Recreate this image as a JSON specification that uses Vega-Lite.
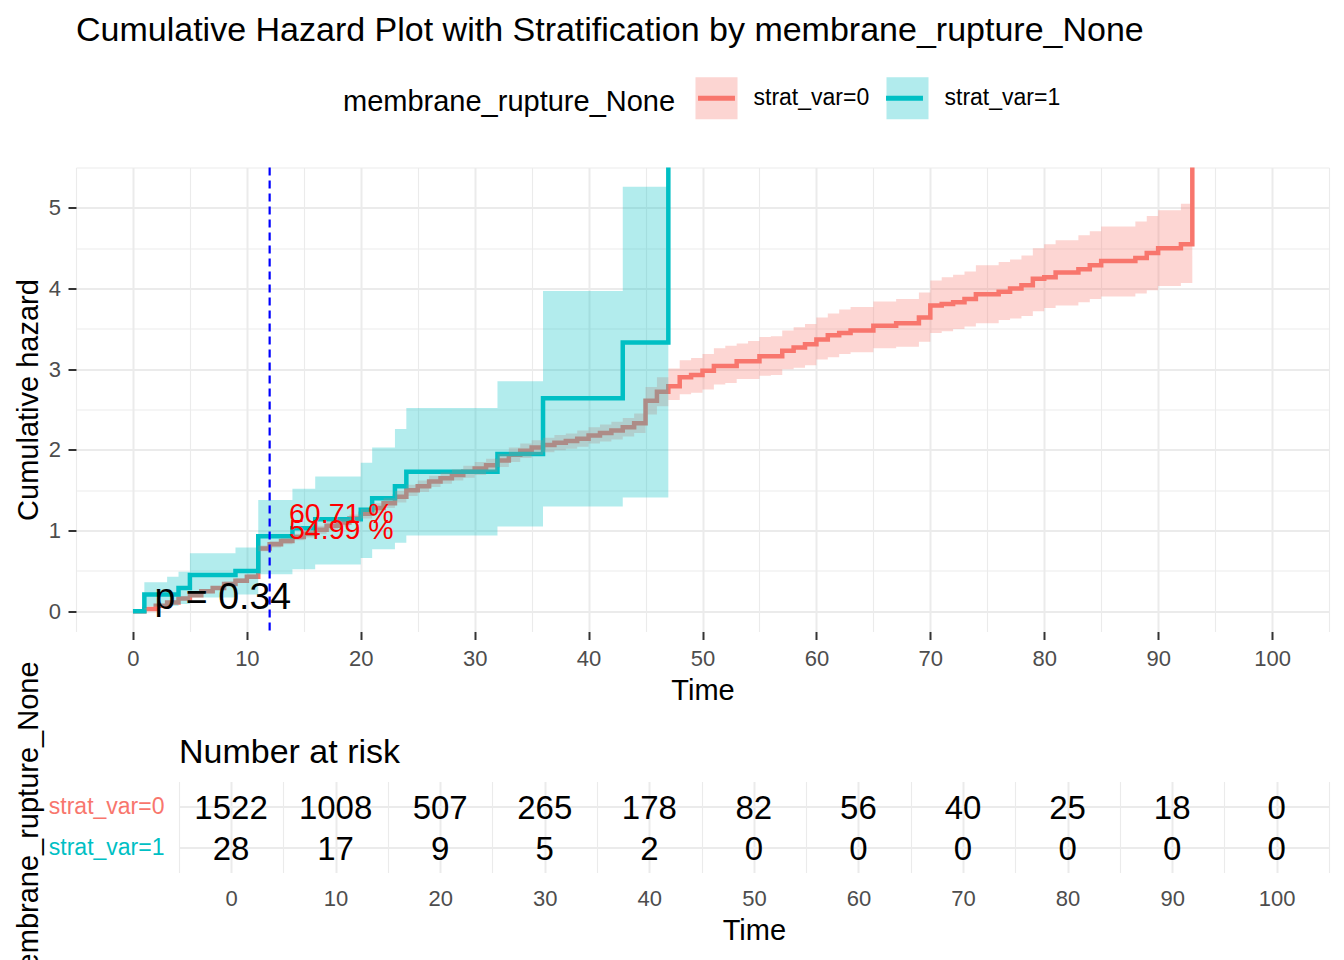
{
  "$schema": "https://vega.github.io/schema/vega-lite/v6.json",
  "padding": {"left": 14, "top": 13.5, "right": 5, "bottom": 0},
  "background": "white",
  "config": {"font": "Liberation Sans", "view": {"stroke": null}},
  "bounds": "flush",
  "spacing": 150,
  "datasets": {
    "lines": [
      {"t":0,"H":0,"strata":"strat_var=0"},{"t":1,"H":0.03,"strata":"strat_var=0"},{"t":2,"H":0.07,"strata":"strat_var=0"},{"t":3,"H":0.11,"strata":"strat_var=0"},{"t":4,"H":0.16,"strata":"strat_var=0"},{"t":5,"H":0.2,"strata":"strat_var=0"},{"t":6,"H":0.25,"strata":"strat_var=0"},{"t":7,"H":0.29,"strata":"strat_var=0"},{"t":8,"H":0.34,"strata":"strat_var=0"},{"t":9,"H":0.38,"strata":"strat_var=0"},{"t":10,"H":0.43,"strata":"strat_var=0"},{"t":11,"H":0.78,"strata":"strat_var=0"},{"t":12,"H":0.83,"strata":"strat_var=0"},{"t":13,"H":0.87,"strata":"strat_var=0"},{"t":14,"H":0.92,"strata":"strat_var=0"},{"t":15,"H":0.96,"strata":"strat_var=0"},{"t":16,"H":1.01,"strata":"strat_var=0"},{"t":17,"H":1.06,"strata":"strat_var=0"},{"t":18,"H":1.1,"strata":"strat_var=0"},{"t":19,"H":1.15,"strata":"strat_var=0"},{"t":20,"H":1.21,"strata":"strat_var=0"},{"t":21,"H":1.28,"strata":"strat_var=0"},{"t":22,"H":1.34,"strata":"strat_var=0"},{"t":23,"H":1.42,"strata":"strat_var=0"},{"t":24,"H":1.5,"strata":"strat_var=0"},{"t":25,"H":1.55,"strata":"strat_var=0"},{"t":26,"H":1.61,"strata":"strat_var=0"},{"t":27,"H":1.65,"strata":"strat_var=0"},{"t":28,"H":1.69,"strata":"strat_var=0"},{"t":29,"H":1.73,"strata":"strat_var=0"},{"t":30,"H":1.77,"strata":"strat_var=0"},{"t":31,"H":1.81,"strata":"strat_var=0"},{"t":32,"H":1.87,"strata":"strat_var=0"},{"t":33,"H":1.94,"strata":"strat_var=0"},{"t":34,"H":1.99,"strata":"strat_var=0"},{"t":35,"H":2.03,"strata":"strat_var=0"},{"t":36,"H":2.06,"strata":"strat_var=0"},{"t":37,"H":2.09,"strata":"strat_var=0"},{"t":38,"H":2.11,"strata":"strat_var=0"},{"t":39,"H":2.14,"strata":"strat_var=0"},{"t":40,"H":2.18,"strata":"strat_var=0"},{"t":41,"H":2.21,"strata":"strat_var=0"},{"t":42,"H":2.24,"strata":"strat_var=0"},{"t":43,"H":2.28,"strata":"strat_var=0"},{"t":44,"H":2.33,"strata":"strat_var=0"},{"t":45,"H":2.61,"strata":"strat_var=0"},{"t":46,"H":2.72,"strata":"strat_var=0"},{"t":47,"H":2.79,"strata":"strat_var=0"},{"t":48,"H":2.9,"strata":"strat_var=0"},{"t":49,"H":2.93,"strata":"strat_var=0"},{"t":50,"H":2.98,"strata":"strat_var=0"},{"t":51,"H":3.04,"strata":"strat_var=0"},{"t":53,"H":3.1,"strata":"strat_var=0"},{"t":55,"H":3.16,"strata":"strat_var=0"},{"t":57,"H":3.23,"strata":"strat_var=0"},{"t":58,"H":3.27,"strata":"strat_var=0"},{"t":59,"H":3.31,"strata":"strat_var=0"},{"t":60,"H":3.37,"strata":"strat_var=0"},{"t":61,"H":3.42,"strata":"strat_var=0"},{"t":62,"H":3.45,"strata":"strat_var=0"},{"t":63,"H":3.48,"strata":"strat_var=0"},{"t":65,"H":3.54,"strata":"strat_var=0"},{"t":67,"H":3.57,"strata":"strat_var=0"},{"t":69,"H":3.64,"strata":"strat_var=0"},{"t":70,"H":3.79,"strata":"strat_var=0"},{"t":71,"H":3.81,"strata":"strat_var=0"},{"t":72,"H":3.83,"strata":"strat_var=0"},{"t":73,"H":3.87,"strata":"strat_var=0"},{"t":74,"H":3.93,"strata":"strat_var=0"},{"t":76,"H":3.96,"strata":"strat_var=0"},{"t":77,"H":4.0,"strata":"strat_var=0"},{"t":78,"H":4.04,"strata":"strat_var=0"},{"t":79,"H":4.12,"strata":"strat_var=0"},{"t":80,"H":4.14,"strata":"strat_var=0"},{"t":81,"H":4.2,"strata":"strat_var=0"},{"t":83,"H":4.24,"strata":"strat_var=0"},{"t":84,"H":4.29,"strata":"strat_var=0"},{"t":85,"H":4.34,"strata":"strat_var=0"},{"t":88,"H":4.38,"strata":"strat_var=0"},{"t":89,"H":4.44,"strata":"strat_var=0"},{"t":90,"H":4.5,"strata":"strat_var=0"},{"t":92,"H":4.55,"strata":"strat_var=0"},{"t":93,"H":12,"strata":"strat_var=0"},
      {"t":0,"H":0,"strata":"strat_var=1"},{"t":1,"H":0.21,"strata":"strat_var=1"},{"t":4,"H":0.29,"strata":"strat_var=1"},{"t":5,"H":0.45,"strata":"strat_var=1"},{"t":9,"H":0.5,"strata":"strat_var=1"},{"t":11,"H":0.93,"strata":"strat_var=1"},{"t":14,"H":1.03,"strata":"strat_var=1"},{"t":16,"H":1.14,"strata":"strat_var=1"},{"t":20,"H":1.26,"strata":"strat_var=1"},{"t":21,"H":1.4,"strata":"strat_var=1"},{"t":23,"H":1.55,"strata":"strat_var=1"},{"t":24,"H":1.73,"strata":"strat_var=1"},{"t":32,"H":1.95,"strata":"strat_var=1"},{"t":36,"H":2.64,"strata":"strat_var=1"},{"t":43,"H":3.33,"strata":"strat_var=1"},{"t":47,"H":12,"strata":"strat_var=1"}
    ],
    "bands": [
      {"t":0,"lo":0,"hi":0,"grp":"strat_var=0"},{"t":1,"lo":0.02,"hi":0.04,"grp":"strat_var=0"},{"t":2,"lo":0.055,"hi":0.085,"grp":"strat_var=0"},{"t":3,"lo":0.09,"hi":0.13,"grp":"strat_var=0"},{"t":4,"lo":0.14,"hi":0.18,"grp":"strat_var=0"},{"t":5,"lo":0.18,"hi":0.22,"grp":"strat_var=0"},{"t":6,"lo":0.225,"hi":0.275,"grp":"strat_var=0"},{"t":7,"lo":0.265,"hi":0.315,"grp":"strat_var=0"},{"t":8,"lo":0.31,"hi":0.37,"grp":"strat_var=0"},{"t":9,"lo":0.35,"hi":0.41,"grp":"strat_var=0"},{"t":10,"lo":0.4,"hi":0.46,"grp":"strat_var=0"},{"t":11,"lo":0.745,"hi":0.815,"grp":"strat_var=0"},{"t":12,"lo":0.79,"hi":0.87,"grp":"strat_var=0"},{"t":13,"lo":0.83,"hi":0.91,"grp":"strat_var=0"},{"t":14,"lo":0.88,"hi":0.96,"grp":"strat_var=0"},{"t":15,"lo":0.915,"hi":1.005,"grp":"strat_var=0"},{"t":16,"lo":0.96,"hi":1.06,"grp":"strat_var=0"},{"t":17,"lo":1.01,"hi":1.11,"grp":"strat_var=0"},{"t":18,"lo":1.05,"hi":1.15,"grp":"strat_var=0"},{"t":19,"lo":1.1,"hi":1.2,"grp":"strat_var=0"},{"t":20,"lo":1.15,"hi":1.27,"grp":"strat_var=0"},{"t":21,"lo":1.22,"hi":1.34,"grp":"strat_var=0"},{"t":22,"lo":1.28,"hi":1.4,"grp":"strat_var=0"},{"t":23,"lo":1.35,"hi":1.49,"grp":"strat_var=0"},{"t":24,"lo":1.43,"hi":1.57,"grp":"strat_var=0"},{"t":25,"lo":1.48,"hi":1.62,"grp":"strat_var=0"},{"t":26,"lo":1.54,"hi":1.68,"grp":"strat_var=0"},{"t":27,"lo":1.58,"hi":1.72,"grp":"strat_var=0"},{"t":28,"lo":1.62,"hi":1.76,"grp":"strat_var=0"},{"t":29,"lo":1.655,"hi":1.805,"grp":"strat_var=0"},{"t":30,"lo":1.69,"hi":1.85,"grp":"strat_var=0"},{"t":31,"lo":1.73,"hi":1.89,"grp":"strat_var=0"},{"t":32,"lo":1.79,"hi":1.95,"grp":"strat_var=0"},{"t":33,"lo":1.85,"hi":2.03,"grp":"strat_var=0"},{"t":34,"lo":1.9,"hi":2.08,"grp":"strat_var=0"},{"t":35,"lo":1.94,"hi":2.12,"grp":"strat_var=0"},{"t":36,"lo":1.97,"hi":2.15,"grp":"strat_var=0"},{"t":37,"lo":1.995,"hi":2.185,"grp":"strat_var=0"},{"t":38,"lo":2.015,"hi":2.205,"grp":"strat_var=0"},{"t":39,"lo":2.04,"hi":2.24,"grp":"strat_var=0"},{"t":40,"lo":2.08,"hi":2.28,"grp":"strat_var=0"},{"t":41,"lo":2.105,"hi":2.315,"grp":"strat_var=0"},{"t":42,"lo":2.13,"hi":2.35,"grp":"strat_var=0"},{"t":43,"lo":2.165,"hi":2.395,"grp":"strat_var=0"},{"t":44,"lo":2.21,"hi":2.45,"grp":"strat_var=0"},{"t":45,"lo":2.44,"hi":2.78,"grp":"strat_var=0"},{"t":46,"lo":2.54,"hi":2.9,"grp":"strat_var=0"},{"t":47,"lo":2.62,"hi":3.01,"grp":"strat_var=0"},{"t":48,"lo":2.69,"hi":3.11,"grp":"strat_var=0"},{"t":49,"lo":2.71,"hi":3.14,"grp":"strat_var=0"},{"t":50,"lo":2.75,"hi":3.19,"grp":"strat_var=0"},{"t":51,"lo":2.81,"hi":3.26,"grp":"strat_var=0"},{"t":52,"lo":2.83,"hi":3.29,"grp":"strat_var=0"},{"t":53,"lo":2.88,"hi":3.32,"grp":"strat_var=0"},{"t":54,"lo":2.88,"hi":3.35,"grp":"strat_var=0"},{"t":55,"lo":2.92,"hi":3.4,"grp":"strat_var=0"},{"t":56,"lo":2.93,"hi":3.41,"grp":"strat_var=0"},{"t":57,"lo":3.0,"hi":3.48,"grp":"strat_var=0"},{"t":58,"lo":3.02,"hi":3.52,"grp":"strat_var=0"},{"t":59,"lo":3.05,"hi":3.56,"grp":"strat_var=0"},{"t":60,"lo":3.12,"hi":3.64,"grp":"strat_var=0"},{"t":61,"lo":3.15,"hi":3.69,"grp":"strat_var=0"},{"t":62,"lo":3.19,"hi":3.74,"grp":"strat_var=0"},{"t":63,"lo":3.21,"hi":3.77,"grp":"strat_var=0"},{"t":65,"lo":3.26,"hi":3.84,"grp":"strat_var=0"},{"t":67,"lo":3.28,"hi":3.87,"grp":"strat_var=0"},{"t":69,"lo":3.34,"hi":3.95,"grp":"strat_var=0"},{"t":70,"lo":3.45,"hi":4.1,"grp":"strat_var=0"},{"t":71,"lo":3.47,"hi":4.14,"grp":"strat_var=0"},{"t":72,"lo":3.5,"hi":4.17,"grp":"strat_var=0"},{"t":73,"lo":3.53,"hi":4.21,"grp":"strat_var=0"},{"t":74,"lo":3.57,"hi":4.29,"grp":"strat_var=0"},{"t":76,"lo":3.61,"hi":4.33,"grp":"strat_var=0"},{"t":77,"lo":3.63,"hi":4.36,"grp":"strat_var=0"},{"t":78,"lo":3.66,"hi":4.41,"grp":"strat_var=0"},{"t":79,"lo":3.72,"hi":4.5,"grp":"strat_var=0"},{"t":80,"lo":3.76,"hi":4.55,"grp":"strat_var=0"},{"t":81,"lo":3.79,"hi":4.6,"grp":"strat_var=0"},{"t":83,"lo":3.83,"hi":4.66,"grp":"strat_var=0"},{"t":84,"lo":3.87,"hi":4.71,"grp":"strat_var=0"},{"t":85,"lo":3.9,"hi":4.77,"grp":"strat_var=0"},{"t":88,"lo":3.94,"hi":4.83,"grp":"strat_var=0"},{"t":89,"lo":3.98,"hi":4.9,"grp":"strat_var=0"},{"t":90,"lo":4.03,"hi":4.97,"grp":"strat_var=0"},{"t":92,"lo":4.07,"hi":5.05,"grp":"strat_var=0"},{"t":93,"lo":4.07,"hi":5.05,"grp":"strat_var=0"},
      {"t":0,"lo":0,"hi":0,"grp":"strat_var=1"},{"t":1,"lo":0.06,"hi":0.36,"grp":"strat_var=1"},{"t":3,"lo":0.07,"hi":0.43,"grp":"strat_var=1"},{"t":4,"lo":0.09,"hi":0.49,"grp":"strat_var=1"},{"t":5,"lo":0.17,"hi":0.72,"grp":"strat_var=1"},{"t":9,"lo":0.21,"hi":0.79,"grp":"strat_var=1"},{"t":11,"lo":0.46,"hi":1.38,"grp":"strat_var=1"},{"t":14,"lo":0.52,"hi":1.52,"grp":"strat_var=1"},{"t":16,"lo":0.58,"hi":1.67,"grp":"strat_var=1"},{"t":20,"lo":0.66,"hi":1.84,"grp":"strat_var=1"},{"t":21,"lo":0.77,"hi":2.03,"grp":"strat_var=1"},{"t":23,"lo":0.85,"hi":2.26,"grp":"strat_var=1"},{"t":24,"lo":0.94,"hi":2.52,"grp":"strat_var=1"},{"t":32,"lo":1.05,"hi":2.85,"grp":"strat_var=1"},{"t":36,"lo":1.3,"hi":3.97,"grp":"strat_var=1"},{"t":43,"lo":1.41,"hi":5.26,"grp":"strat_var=1"},{"t":47,"lo":1.41,"hi":5.26,"grp":"strat_var=1"}
    ],
    "cut": [{"t": 12}],
    "notes": [
      {"t": 13.7, "y": 1.098, "label": "60.71 %"},
      {"t": 13.7, "y": 0.9, "label": "54.99 %"}
    ],
    "pval": [{"t": 1.9, "y": 0.025, "label": "p = 0.34"}],
    "risk": [
      {"t":0,"n":1522,"strata":"strat_var=0"},{"t":10,"n":1008,"strata":"strat_var=0"},{"t":20,"n":507,"strata":"strat_var=0"},{"t":30,"n":265,"strata":"strat_var=0"},{"t":40,"n":178,"strata":"strat_var=0"},{"t":50,"n":82,"strata":"strat_var=0"},{"t":60,"n":56,"strata":"strat_var=0"},{"t":70,"n":40,"strata":"strat_var=0"},{"t":80,"n":25,"strata":"strat_var=0"},{"t":90,"n":18,"strata":"strat_var=0"},{"t":100,"n":0,"strata":"strat_var=0"},
      {"t":0,"n":28,"strata":"strat_var=1"},{"t":10,"n":17,"strata":"strat_var=1"},{"t":20,"n":9,"strata":"strat_var=1"},{"t":30,"n":5,"strata":"strat_var=1"},{"t":40,"n":2,"strata":"strat_var=1"},{"t":50,"n":0,"strata":"strat_var=1"},{"t":60,"n":0,"strata":"strat_var=1"},{"t":70,"n":0,"strata":"strat_var=1"},{"t":80,"n":0,"strata":"strat_var=1"},{"t":90,"n":0,"strata":"strat_var=1"},{"t":100,"n":0,"strata":"strat_var=1"}
    ]
  },
  "vconcat": [
    {
      "width": 1253,
      "height": 464,
      "title": {"text": "Cumulative Hazard Plot with Stratification by membrane_rupture_None", "anchor": "start", "frame": "group", "fontSize": 34, "fontWeight": "normal", "color": "#000000", "offset": 118},
      "encoding": {
        "x": {
          "field": "t", "type": "quantitative", "title": "Time",
          "scale": {"domain": [-5, 105], "nice": false, "zero": false},
          "axis": {
            "title": "Time",
            "values": [-5,0,5,10,15,20,25,30,35,40,45,50,55,60,65,70,75,80,85,90,95,100,105],
            "labelExpr": "datum.value % 10 === 0 && datum.value >= 0 && datum.value <= 100 ? format(datum.value, 'd') : ''",
            "grid": true, "gridColor": "#EBEBEB",
            "gridWidth": {"condition": {"test": "datum.value % 10 === 0", "value": 2}, "value": 1.1},
            "domain": false, "ticks": true, "tickSize": 8, "tickWidth": 2,
            "tickColor": {"condition": {"test": "datum.value % 10 === 0 && datum.value >= 0 && datum.value <= 100", "value": "#333333"}, "value": "rgba(0,0,0,0)"},
            "labelFontSize": 22, "labelColor": "#4D4D4D", "labelPadding": 9, "labelFlush": false, "labelOverlap": false,
            "titleFontSize": 29, "titleFontWeight": "normal", "titleColor": "#000000", "titlePadding": 7
          }
        }
      },
      "layer": [
        {
          "data": {"name": "lines"},
          "mark": {"type": "line", "interpolate": "step-after", "strokeWidth": 4.5, "clip": true},
          "encoding": {
            "y": {
              "field": "H", "type": "quantitative", "title": "Cumulative hazard",
              "scale": {"domain": [-0.25, 5.5], "nice": false, "zero": false},
              "axis": {
                "title": "Cumulative hazard",
                "values": [0,0.5,1,1.5,2,2.5,3,3.5,4,4.5,5,5.5],
                "labelExpr": "datum.value % 1 === 0 ? format(datum.value, 'd') : ''",
                "grid": true, "gridColor": "#EBEBEB",
                "gridWidth": {"condition": {"test": "datum.value % 1 === 0", "value": 2}, "value": 1.1},
                "domain": false, "ticks": true, "tickSize": 8, "tickWidth": 2,
                "tickColor": {"condition": {"test": "datum.value % 1 === 0", "value": "#333333"}, "value": "rgba(0,0,0,0)"},
                "labelFontSize": 22, "labelColor": "#4D4D4D", "labelPadding": 7.5,
                "titleFontSize": 29, "titleFontWeight": "normal", "titleColor": "#000000", "titlePadding": 5, "titleLimit": 1000
              }
            },
            "stroke": {
              "field": "strata", "type": "nominal",
              "scale": {"range": ["#F8766D", "#00BFC4"]},
              "legend": {
                "orient": "none", "legendX": 267, "legendY": -93, "direction": "horizontal",
                "title": "membrane_rupture_None", "titleOrient": "left", "titleFontSize": 29, "titleFontWeight": "normal",
                "titleOpacity": 0, "titlePadding": 17, "titleLimit": 1000, "titleAnchor": "middle", "titleBaseline": "middle",
                "labelFontSize": 23, "labelOpacity": 0, "labelOffset": 13.5, "labelLimit": 500, "columnPadding": 6, "padding": 0,
                "symbolType": "M-0.88,0H0.88", "symbolSize": 1764, "symbolStrokeWidth": 5, "symbolFillColor": "transparent", "symbolOpacity": 1,
                "zindex": 2
              }
            }
          }
        },
        {
          "data": {"name": "bands"},
          "mark": {"type": "area", "interpolate": "step-after", "fillOpacity": 0.3, "clip": true},
          "encoding": {
            "y": {
              "field": "hi", "type": "quantitative", "stack": null, "title": "Cumulative hazard",
              "axis": {
                "title": "Cumulative hazard",
                "values": [0,0.5,1,1.5,2,2.5,3,3.5,4,4.5,5,5.5],
                "labelExpr": "datum.value % 1 === 0 ? format(datum.value, 'd') : ''",
                "grid": true, "gridColor": "#EBEBEB",
                "gridWidth": {"condition": {"test": "datum.value % 1 === 0", "value": 2}, "value": 1.1},
                "domain": false, "ticks": true, "tickSize": 8, "tickWidth": 2,
                "tickColor": {"condition": {"test": "datum.value % 1 === 0", "value": "#333333"}, "value": "rgba(0,0,0,0)"},
                "labelFontSize": 22, "labelColor": "#4D4D4D", "labelPadding": 7.5,
                "titleFontSize": 29, "titleFontWeight": "normal", "titleColor": "#000000", "titlePadding": 5, "titleLimit": 1000
              }
            },
            "y2": {"field": "lo"},
            "fill": {
              "field": "grp", "type": "nominal",
              "scale": {"range": ["#F8766D", "#00BFC4"]},
              "legend": {
                "orient": "none", "legendX": 267, "legendY": -93, "direction": "horizontal",
                "title": "membrane_rupture_None", "titleOrient": "left", "titleFontSize": 29, "titleFontWeight": "normal",
                "titleColor": "#000000", "titlePadding": 17, "titleLimit": 1000, "titleAnchor": "middle", "titleBaseline": "middle",
                "labelFontSize": 23, "labelColor": "#000000", "labelOffset": 13.5, "labelLimit": 500, "columnPadding": 6, "padding": 0,
                "symbolType": "square", "symbolSize": 1764, "symbolStrokeWidth": 5, "symbolStrokeColor": "transparent", "symbolOpacity": 0.3,
                "zindex": 1
              }
            }
          }
        },
        {
          "data": {"name": "cut"},
          "mark": {"type": "rule", "color": "#0000FF", "strokeWidth": 2.2, "strokeDash": [8, 5]},
          "encoding": {}
        },
        {
          "data": {"name": "notes"},
          "mark": {"type": "text", "color": "#FF0000", "fontSize": 28.5, "align": "left", "baseline": "alphabetic"},
          "encoding": {
            "y": {
              "field": "y", "type": "quantitative", "title": "Cumulative hazard",
              "axis": {
                "title": "Cumulative hazard",
                "values": [0,0.5,1,1.5,2,2.5,3,3.5,4,4.5,5,5.5],
                "labelExpr": "datum.value % 1 === 0 ? format(datum.value, 'd') : ''",
                "grid": true, "gridColor": "#EBEBEB",
                "gridWidth": {"condition": {"test": "datum.value % 1 === 0", "value": 2}, "value": 1.1},
                "domain": false, "ticks": true, "tickSize": 8, "tickWidth": 2,
                "tickColor": {"condition": {"test": "datum.value % 1 === 0", "value": "#333333"}, "value": "rgba(0,0,0,0)"},
                "labelFontSize": 22, "labelColor": "#4D4D4D", "labelPadding": 7.5,
                "titleFontSize": 29, "titleFontWeight": "normal", "titleColor": "#000000", "titlePadding": 5, "titleLimit": 1000
              }
            },
            "text": {"field": "label"}
          }
        },
        {
          "data": {"name": "pval"},
          "mark": {"type": "text", "color": "#000000", "fontSize": 37.5, "align": "left", "baseline": "alphabetic"},
          "encoding": {
            "y": {
              "field": "y", "type": "quantitative", "title": "Cumulative hazard",
              "axis": {
                "title": "Cumulative hazard",
                "values": [0,0.5,1,1.5,2,2.5,3,3.5,4,4.5,5,5.5],
                "labelExpr": "datum.value % 1 === 0 ? format(datum.value, 'd') : ''",
                "grid": true, "gridColor": "#EBEBEB",
                "gridWidth": {"condition": {"test": "datum.value % 1 === 0", "value": 2}, "value": 1.1},
                "domain": false, "ticks": true, "tickSize": 8, "tickWidth": 2,
                "tickColor": {"condition": {"test": "datum.value % 1 === 0", "value": "#333333"}, "value": "rgba(0,0,0,0)"},
                "labelFontSize": 22, "labelColor": "#4D4D4D", "labelPadding": 7.5,
                "titleFontSize": 29, "titleFontWeight": "normal", "titleColor": "#000000", "titlePadding": 5, "titleLimit": 1000
              }
            },
            "text": {"field": "label"}
          }
        }
      ]
    },
    {
      "width": 1253,
      "height": 91,
      "title": {"text": "Number at risk", "anchor": "start", "frame": "group", "fontSize": 34, "fontWeight": "normal", "color": "#000000", "offset": -109, "dx": 103},
      "data": {"name": "risk"},
      "mark": {"type": "text", "fontSize": 33, "baseline": "middle", "color": "#000000", "dy": 2.5},
      "encoding": {
        "x": {
          "field": "t", "type": "quantitative",
          "scale": {"domain": [-5, 105], "range": [102.75, 1253], "nice": false, "zero": false},
          "axis": {
            "title": "Time",
            "values": [-5,0,5,10,15,20,25,30,35,40,45,50,55,60,65,70,75,80,85,90,95,100,105],
            "labelExpr": "datum.value % 10 === 0 && datum.value >= 0 && datum.value <= 100 ? format(datum.value, 'd') : ''",
            "grid": true, "gridColor": "#EBEBEB",
            "gridWidth": {"condition": {"test": "datum.value % 10 === 0", "value": 2}, "value": 1.1},
            "domain": false, "ticks": false, "tickSize": 0,
            "labelFontSize": 22, "labelColor": "#4D4D4D", "labelPadding": 15.5, "labelFlush": false, "labelOverlap": false,
            "titleFontSize": 29, "titleFontWeight": "normal", "titleColor": "#000000", "titlePadding": 7
          }
        },
        "y": {
          "field": "strata", "type": "nominal",
          "scale": {"type": "point", "padding": 0.6},
          "axis": {
            "title": "membrane_rupture_None", "titleFontSize": 29, "titleFontWeight": "normal", "titleColor": "#000000", "titlePadding": 5, "titleLimit": 1000,
            "labelFontSize": 23,
            "labelColor": {"condition": {"test": "datum.value === 'strat_var=0'", "value": "#F8766D"}, "value": "#00BFC4"},
            "labelPadding": 14.75, "ticks": false, "tickSize": 0, "domain": false, "offset": -102.75,
            "grid": true, "gridColor": "#EBEBEB", "gridWidth": 2
          }
        },
        "text": {"field": "n", "type": "quantitative", "format": "d"}
      }
    }
  ]
}
